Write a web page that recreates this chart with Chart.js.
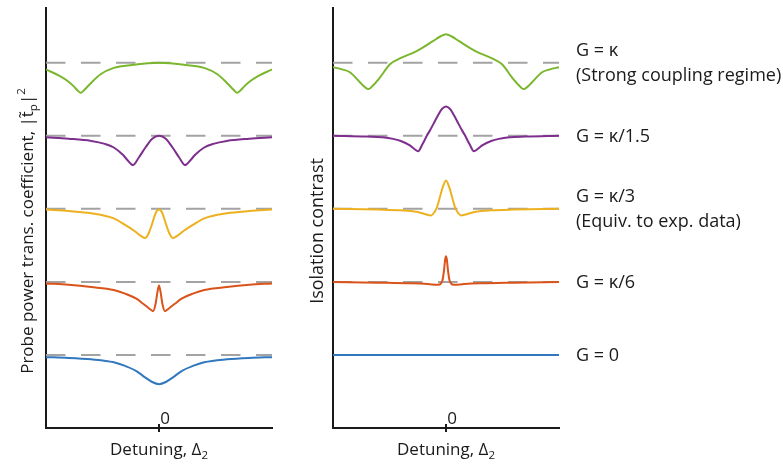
<!DOCTYPE html>
<html>
<head>
<meta charset="utf-8">
<script src="https://cdn.jsdelivr.net/npm/chart.js@4.4.1/dist/chart.umd.min.js"></script>
<style>
  html, body { margin: 0; padding: 0; background: #fff; }
  #wrap { position: relative; width: 783px; height: 464px; }
  #left { position: absolute; left: 0; top: 0; }
  #right { position: absolute; left: 300px; top: 0; }
</style>
</head>
<body>
<div id="wrap">
  <canvas id="left" width="300" height="464"></canvas>
  <canvas id="right" width="483" height="464"></canvas>
</div>
<script>
// traces, bottom to top: G = 0, k/6, k/3, k/1.5, k
// each trace sits on its own dashed baseline (offset = index), values are relative to it
var regimes = ["G = 0", "G = κ/6", "G = κ/3", "G = κ/1.5", "G = κ"];
var notes = ["", "", "(Equiv. to exp. data)", "", "(Strong coupling regime)"];
var detuningRange = [-5, 5];

// left panel: probe power transmission
var transX = [
  [-5, -4, -3, -2, -1.5, -1, -0.6, -0.3, 0, 0.3, 0.6, 1, 1.5, 2, 3, 4, 5],
  [-5, -4, -3, -2, -1.5, -1, -0.7, -0.45, -0.26, -0.15, -0.07, 0, 0.07, 0.15, 0.26, 0.45, 0.7, 1, 1.5, 2, 3, 4, 5],
  [-5, -4, -3, -2, -1.5, -1.1, -0.85, -0.62, -0.45, -0.3, -0.15, 0, 0.15, 0.3, 0.45, 0.62, 0.85, 1.1, 1.5, 2, 3, 4, 5],
  [-5, -4, -3, -2.4, -2, -1.6, -1.4, -1.15, -0.9, -0.6, -0.3, 0, 0.3, 0.6, 0.9, 1.15, 1.4, 1.6, 2, 2.4, 3, 4, 5],
  [-5, -4.4, -4, -3.75, -3.6, -3.46, -3.3, -3.05, -2.6, -2, -1.2, 0, 1.2, 2, 2.6, 3.05, 3.3, 3.46, 3.6, 3.75, 4, 4.4, 5]
];
var transY = [
  [-0.03, -0.04, -0.06, -0.10, -0.15, -0.22, -0.31, -0.37, -0.40, -0.37, -0.31, -0.22, -0.15, -0.10, -0.06, -0.04, -0.03],
  [-0.02, -0.04, -0.07, -0.11, -0.16, -0.23, -0.30, -0.36, -0.40, -0.30, -0.14, -0.05, -0.14, -0.30, -0.40, -0.36, -0.30, -0.23, -0.16, -0.11, -0.07, -0.04, -0.02],
  [-0.01, -0.03, -0.06, -0.13, -0.22, -0.30, -0.36, -0.40, -0.33, -0.20, -0.06, -0.01, -0.06, -0.20, -0.33, -0.40, -0.36, -0.30, -0.22, -0.13, -0.06, -0.03, -0.01],
  [-0.02, -0.04, -0.07, -0.11, -0.16, -0.26, -0.33, -0.40, -0.30, -0.16, -0.04, 0, -0.04, -0.16, -0.30, -0.40, -0.33, -0.26, -0.16, -0.11, -0.07, -0.04, -0.02],
  [-0.09, -0.18, -0.26, -0.33, -0.38, -0.41, -0.37, -0.29, -0.16, -0.07, -0.03, 0, -0.03, -0.07, -0.16, -0.29, -0.37, -0.41, -0.38, -0.33, -0.26, -0.18, -0.09]
];

// right panel: isolation contrast
var isoX = [
  [-5, 0, 5],
  [-5, -3, -1.5, -0.8, -0.35, -0.22, -0.15, -0.08, -0.04, 0, 0.04, 0.08, 0.15, 0.22, 0.35, 0.8, 1.5, 3, 5],
  [-5, -3, -2, -1.3, -0.95, -0.66, -0.5, -0.4, -0.28, -0.15, 0, 0.15, 0.28, 0.4, 0.5, 0.66, 0.95, 1.3, 2, 3, 5],
  [-5, -3.5, -2.8, -2, -1.6, -1.4, -1.23, -1.05, -0.85, -0.7, -0.56, -0.34, -0.17, 0, 0.17, 0.34, 0.56, 0.7, 0.85, 1.05, 1.23, 1.4, 1.6, 2, 2.8, 3.5, 5],
  [-5, -4.6, -4.25, -3.8, -3.6, -3.44, -3.2, -2.92, -2.48, -2.04, -1.3, -0.56, -0.25, 0, 0.25, 0.56, 1.3, 2.04, 2.48, 2.92, 3.2, 3.44, 3.6, 3.8, 4.25, 4.6, 5]
];
var isoY = [
  [0, 0, 0],
  [0, -0.01, -0.02, -0.03, -0.04, -0.02, 0.03, 0.18, 0.30, 0.35, 0.30, 0.18, 0.03, -0.02, -0.04, -0.03, -0.02, -0.01, 0],
  [0, -0.01, -0.02, -0.04, -0.07, -0.09, -0.04, 0.02, 0.15, 0.29, 0.39, 0.29, 0.15, 0.02, -0.04, -0.09, -0.07, -0.04, -0.02, -0.01, 0],
  [0, -0.01, -0.02, -0.07, -0.13, -0.18, -0.21, -0.12, 0, 0.08, 0.16, 0.29, 0.37, 0.40, 0.37, 0.29, 0.16, 0.08, 0, -0.12, -0.21, -0.18, -0.13, -0.07, -0.02, -0.01, 0],
  [-0.06, -0.09, -0.13, -0.27, -0.33, -0.36, -0.30, -0.20, -0.02, 0.06, 0.16, 0.30, 0.36, 0.39, 0.36, 0.30, 0.16, 0.06, -0.02, -0.20, -0.30, -0.36, -0.33, -0.27, -0.13, -0.09, -0.06]
];

var FONT = "'Open Sans', sans-serif";
var INK = "#1a1a1a";
var colors = ["#3178bf", "#d9531a", "#edb120", "#7e2f8e", "#7ab72e"];

function buildDatasets(xs, ys) {
  var sets = [];
  for (var i = 0; i < xs.length; i++) {
    var pts = xs[i].map(function(x, j) { return { x: x, y: i + ys[i][j] }; });
    sets.push({
      data: pts, borderColor: colors[i], borderWidth: 2, pointRadius: 0,
      cubicInterpolationMode: "monotone", order: 1
    });
    sets.push({
      data: [{ x: detuningRange[0], y: i }, { x: detuningRange[1], y: i }],
      borderColor: "#a3a3a3", borderWidth: 2, borderDash: [19.5, 15.5], pointRadius: 0, order: 2
    });
  }
  return sets;
}

// text with sub/superscripts: parts = [text, size, dy]
function richText(ctx, parts, cx, cy, rot) {
  ctx.save();
  ctx.translate(cx, cy);
  ctx.rotate(rot);
  ctx.textBaseline = "alphabetic";
  ctx.textAlign = "left";
  var w = 0;
  parts.forEach(function(p) { ctx.font = p[1] + "px " + FONT; w += ctx.measureText(p[0]).width; });
  var x = -w / 2;
  parts.forEach(function(p) {
    ctx.font = p[1] + "px " + FONT;
    ctx.fillText(p[0], x, p[2]);
    x += ctx.measureText(p[0]).width;
  });
  ctx.restore();
}

var decor = {
  id: "decor",
  afterDraw: function(chart, args, opts) {
    var ctx = chart.ctx, a = chart.chartArea;
    var x0 = chart.scales.x.getPixelForValue(0);
    ctx.save();
    ctx.strokeStyle = INK;
    ctx.fillStyle = INK;
    ctx.lineWidth = 2;
    ctx.beginPath();
    ctx.moveTo(x0, a.bottom - 4);
    ctx.lineTo(x0, a.bottom + 4);
    ctx.stroke();

    richText(ctx, [["Detuning, Δ", 17, 0], ["2", 11.5, 4]], (a.left + a.right) / 2, a.bottom + 27, 0);
    richText(ctx, opts.yTitle, opts.yTitleX, (a.top + a.bottom) / 2 + 13, -Math.PI / 2);

    if (opts.labels) {
      var ys = chart.scales.y;
      ctx.font = "18px " + FONT;
      ctx.textAlign = "left";
      ctx.textBaseline = "alphabetic";
      for (var i = 0; i < regimes.length; i++) {
        var yc = ys.getPixelForValue(i);
        var lx = a.right + 17;
        if (notes[i]) {
          ctx.fillText(regimes[i], lx, yc - 12.5 + 6);
          ctx.fillText(notes[i], lx, yc + 12.5 + 6);
        } else {
          ctx.fillText(regimes[i], lx, yc + 6);
        }
      }
    }
    ctx.restore();
  }
};

function makeOptions(axisW, padRight, decorOpts) {
  return {
    responsive: false,
    animation: false,
    devicePixelRatio: 1,
    layout: { padding: { top: 8, right: padRight, left: 0, bottom: 0 } },
    plugins: { legend: { display: false }, tooltip: { enabled: false }, decor: decorOpts },
    scales: {
      x: {
        type: "linear", min: detuningRange[0], max: detuningRange[1],
        afterFit: function(s) { s.height = 36; },
        afterBuildTicks: function(s) { s.ticks = [{ value: 0 }]; },
        grid: { display: false, drawTicks: false },
        border: { display: true, color: INK, width: 2 },
        ticks: { mirror: true, padding: -1, labelOffset: 6, color: INK, font: { family: FONT, size: 17 } }
      },
      y: {
        type: "linear", min: -1, max: 4.75,
        afterFit: function(s) { s.width = axisW; },
        ticks: { display: false },
        grid: { display: false, drawTicks: false },
        border: { display: true, color: INK, width: 2 }
      }
    }
  };
}

new Chart(document.getElementById("left").getContext("2d"), {
  type: "line",
  data: { datasets: buildDatasets(transX, transY) },
  options: makeOptions(46, 28, {
    yTitle: [["Probe power trans. coefficient, |t\u0303", 17, 0], ["p", 11.5, 4], ["|", 17, 0], ["2", 11.5, -8]],
    yTitleX: 33, labels: false
  }),
  plugins: [decor]
});

new Chart(document.getElementById("right").getContext("2d"), {
  type: "line",
  data: { datasets: buildDatasets(isoX, isoY) },
  options: makeOptions(33, 224, {
    yTitle: [["Isolation contrast", 18, 0]],
    yTitleX: 23, labels: true
  }),
  plugins: [decor]
});
</script>
</body>
</html>
